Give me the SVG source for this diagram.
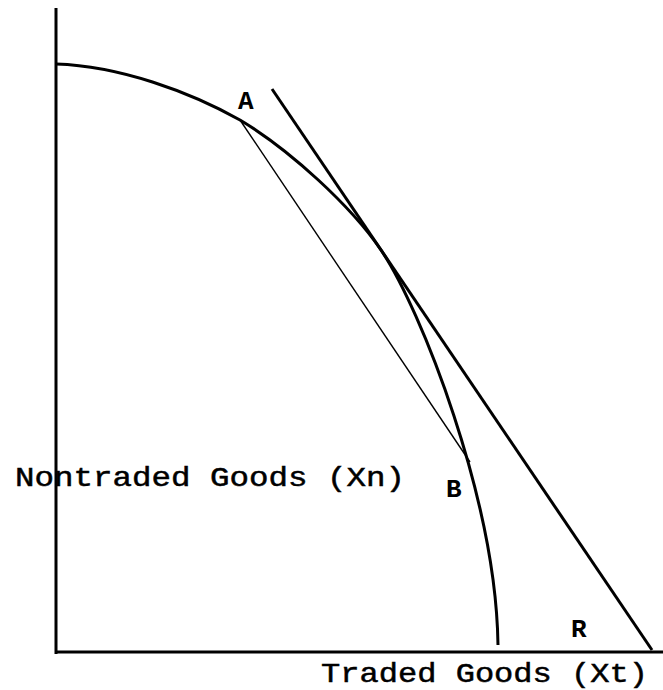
<svg xmlns="http://www.w3.org/2000/svg" width="663" height="690" viewBox="0 0 663 690">
<style>
.ax{stroke:#000;stroke-width:3;fill:none}
.thick{stroke:#000;stroke-width:3;fill:none}
.thin{stroke:#000;stroke-width:1.4;fill:none}
.lbl{font-family:"Liberation Mono","DejaVu Sans Mono",monospace;font-size:28px;fill:#000;stroke:#000;stroke-width:0.5}
.pt{font-family:"Liberation Mono","DejaVu Sans Mono",monospace;font-size:26px;font-weight:bold;fill:#000}
</style>
<rect width="663" height="690" fill="#fff"/>
<g id="axes">
<line class="ax" x1="56" y1="8" x2="56" y2="654"/>
<line class="ax" x1="55" y1="652" x2="663" y2="652"/>
</g>
<g id="connectors">
<path id="ppf" class="thick" d="M56,64 C120,66 190,92 240,120 C290,150 351,206 381,250 C421,309 496,500 498,645"/>
<line id="price-line" class="thick" x1="272" y1="89" x2="652" y2="650"/>
<line id="chord" class="thin" x1="240" y1="120" x2="470" y2="462"/>
</g>
<g id="point-A"><text class="pt" x="238" y="109">A</text></g>
<g id="point-B"><text class="pt" x="446" y="497">B</text></g>
<g id="point-R"><text class="pt" x="571" y="637">R</text></g>
<g id="label-y"><text class="lbl" x="15" y="486" textLength="390" lengthAdjust="spacingAndGlyphs">Nontraded Goods (Xn)</text></g>
<g id="label-x"><text class="lbl" x="321" y="682" textLength="327" lengthAdjust="spacingAndGlyphs">Traded Goods (Xt)</text></g>
</svg>
